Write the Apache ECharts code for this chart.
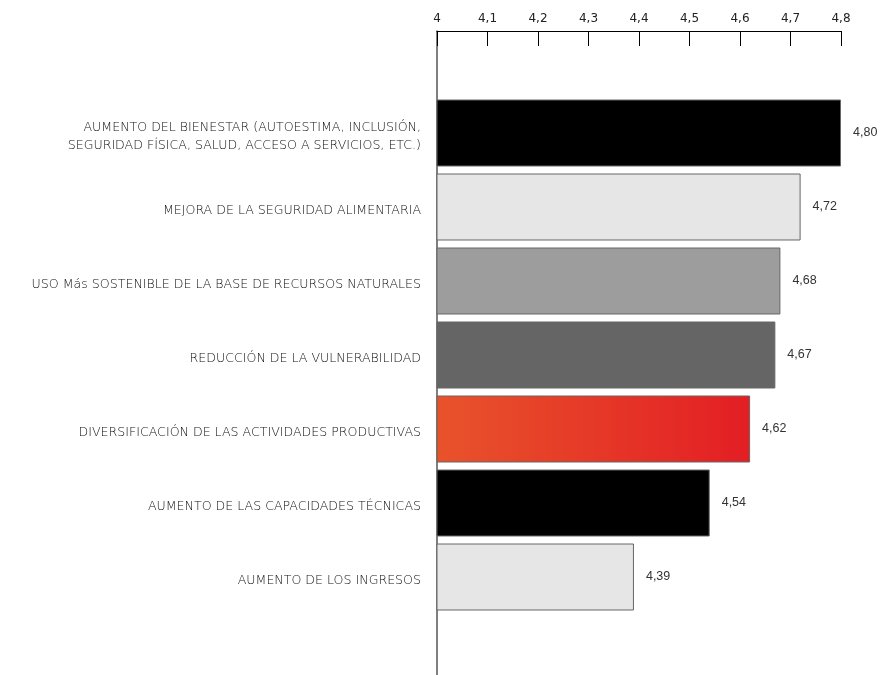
<!DOCTYPE html>
<html>
<head>
<meta charset="utf-8">
<script src="https://cdn.jsdelivr.net/npm/echarts@6/dist/echarts.min.js"></script>
<style>html,body{margin:0;padding:0;background:#fff}#c{width:890px;height:675px}</style>
</head>
<body>
<div id="c"></div>
<script>
const categories = [
  "AUMENTO DEL BIENESTAR (AUTOESTIMA, INCLUSIÓN,\nSEGURIDAD FÍSICA, SALUD, ACCESO A SERVICIOS, ETC.)",
  "MEJORA DE LA SEGURIDAD ALIMENTARIA",
  "USO Más SOSTENIBLE DE LA BASE DE RECURSOS NATURALES",
  "REDUCCIÓN DE LA VULNERABILIDAD",
  "DIVERSIFICACIÓN DE LAS ACTIVIDADES PRODUCTIVAS",
  "AUMENTO DE LAS CAPACIDADES TÉCNICAS",
  "AUMENTO DE LOS INGRESOS"
];
const values = [4.80, 4.72, 4.68, 4.67, 4.62, 4.54, 4.39];
const axisMin = 4, axisMax = 4.8, axisStep = 0.1;

const chart = echarts.init(document.getElementById('c'), null, {renderer: 'canvas'});
const fills = [
  '#000000',
  '#e6e6e6',
  '#9d9d9d',
  '#656565',
  new echarts.graphic.LinearGradient(0, 0, 1, 0, [{offset: 0, color: '#e8532b'}, {offset: 1, color: '#e31e24'}]),
  '#000000',
  '#e6e6e6'
];
const comma = v => String(v).replace('.', ',');
chart.setOption({
  animation: false,
  grid: [
    {left: 437, right: 49, top: 31, bottom: 0},
    {left: 437, right: 49, top: 96, height: 518}
  ],
  xAxis: [
    {
      gridIndex: 0, type: 'value', position: 'top', min: axisMin, max: axisMax, interval: axisStep,
      axisLine: {show: true, onZero: false, lineStyle: {color: '#000', width: 1}},
      axisTick: {show: true, inside: true, length: 15, lineStyle: {color: '#000'}},
      axisLabel: {margin: 6, color: '#222', fontFamily: 'DejaVu Sans', fontSize: 12,
        formatter: v => comma(Math.round(v * 10) / 10)},
      splitLine: {show: false}
    },
    {
      gridIndex: 1, type: 'value', min: axisMin, max: axisMax, show: false
    }
  ],
  yAxis: [
    {
      gridIndex: 0, type: 'value', min: 0, max: 1,
      axisLine: {show: true, onZero: false, lineStyle: {color: '#555', width: 1.5}},
      axisTick: {show: false}, axisLabel: {show: false}, splitLine: {show: false}
    },
    {
      gridIndex: 1, type: 'category', inverse: true, data: categories,
      axisLine: {show: false}, axisTick: {show: false},
      axisLabel: {
        margin: 16, align: 'right',
        formatter: v => '{s| }\n' + v.split('\n').map(l => '{a|' + l + '}').join('\n'),
        rich: {
          s: {fontSize: 1, lineHeight: 8, height: 8},
          a: {color: '#111', fontFamily: 'DejaVu Sans', fontWeight: 200, fontSize: 12.6, lineHeight: 18, align: 'right'}
        }
      }
    }
  ],
  series: [{
    type: 'bar', xAxisIndex: 1, yAxisIndex: 1,
    barCategoryGap: '9.5%',
    data: values.map((v, i) => ({value: v, itemStyle: {color: fills[i]}})),
    itemStyle: {borderColor: '#666', borderWidth: 1},
    label: {show: true, position: 'right', distance: 12, color: '#333',
      fontFamily: 'Liberation Sans', fontSize: 12.5,
      formatter: p => p.value.toFixed(2).replace('.', ',')}
  }]
});
</script>
</body>
</html>
